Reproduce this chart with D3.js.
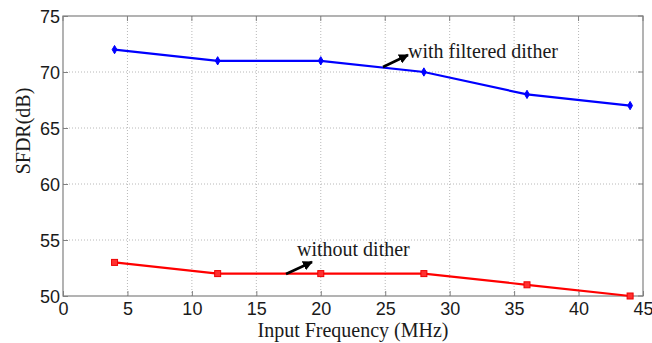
<!DOCTYPE html>
<html>
<head>
<meta charset="utf-8">
<script src="https://cdn.jsdelivr.net/npm/d3@7"></script>
<style>
  html, body { margin: 0; padding: 0; background: #fff; }
  svg { display: block; }
</style>
</head>
<body>
<svg id="chart" width="652" height="343"></svg>
<script>
// Input frequency (MHz) of each measurement
const frequency = [4, 12, 20, 28, 36, 44];
// SFDR (dB) with the filtered dither applied
const sfdrFilteredDither = [72, 71, 71, 70, 68, 67];
// SFDR (dB) without dither
const sfdrNoDither = [53, 52, 52, 52, 51, 50];
// Axis tick values
const xTicks = [0, 5, 10, 15, 20, 25, 30, 35, 40, 45];
const yTicks = [50, 55, 60, 65, 70, 75];

const svg = d3.select("#chart");
const margin = { left: 63, right: 9, top: 16, bottom: 47 };
const W = 652, H = 343;

const x = d3.scaleLinear().domain([0, 45]).range([margin.left, W - margin.right]);
const y = d3.scaleLinear().domain([50, 75]).range([H - margin.bottom, margin.top]);

const x0 = x.range()[0], x1 = x.range()[1];
const y0 = y.range()[0], y1 = y.range()[1];

// dotted grid
const grid = svg.append("g").attr("stroke", "#b8b8b8").attr("stroke-width", 1)
  .attr("stroke-dasharray", "1,2");
grid.selectAll(".gx").data(xTicks.slice(1, -1)).join("line")
  .attr("x1", d => x(d)).attr("x2", d => x(d)).attr("y1", y0).attr("y2", y1);
grid.selectAll(".gy").data(yTicks.slice(1, -1)).join("line")
  .attr("x1", x0).attr("x2", x1).attr("y1", d => y(d)).attr("y2", d => y(d));

// axes with inward ticks
const tickFont = "'Liberation Sans', Arial, sans-serif";
const xAxis = svg.append("g").attr("transform", `translate(0,${y0})`)
  .call(d3.axisBottom(x).tickValues(xTicks).tickSizeInner(-5).tickSizeOuter(0));
const yAxis = svg.append("g").attr("transform", `translate(${x0},0)`)
  .call(d3.axisLeft(y).tickValues(yTicks).tickSizeInner(-5).tickSizeOuter(0).tickPadding(3));
[xAxis, yAxis].forEach(a => {
  a.select(".domain").remove();
  a.selectAll("line").attr("stroke", "#808080");
  a.selectAll("text").attr("font-family", tickFont).attr("font-size", 18).attr("fill", "#1a1a1a");
});
xAxis.selectAll("text").attr("y", 19).attr("dy", 0);
yAxis.selectAll("text").attr("dy", "0.35em");

// top/right ticks mirrored
svg.append("g").selectAll("line").data(xTicks).join("line")
  .attr("x1", d => x(d)).attr("x2", d => x(d)).attr("y1", y1).attr("y2", y1 + 5)
  .attr("stroke", "#808080");
svg.append("g").selectAll("line").data(yTicks).join("line")
  .attr("x1", x1).attr("x2", x1 - 5).attr("y1", d => y(d)).attr("y2", d => y(d))
  .attr("stroke", "#808080");

// plot box
svg.append("rect").attr("x", x0).attr("y", y1).attr("width", x1 - x0).attr("height", y0 - y1)
  .attr("fill", "none").attr("stroke", "#808080").attr("stroke-width", 1.2);

// series lines
const line = d3.line().x(d => x(d[0])).y(d => y(d[1]));
const blue = d3.zip(frequency, sfdrFilteredDither);
const red = d3.zip(frequency, sfdrNoDither);

svg.append("path").datum(blue).attr("d", line).attr("fill", "none")
  .attr("stroke", "#0000ff").attr("stroke-width", 2.2);
svg.append("path").datum(red).attr("d", line).attr("fill", "none")
  .attr("stroke", "#ff0000").attr("stroke-width", 2.2);

// markers
svg.append("g").selectAll("path").data(blue).join("path")
  .attr("d", d3.symbol(d3.symbolDiamond, 20))
  .attr("transform", d => `translate(${x(d[0])},${y(d[1])})`)
  .attr("fill", "#0000ff").attr("stroke", "#0000ff");
svg.append("g").selectAll("rect").data(red).join("rect")
  .attr("x", d => x(d[0]) - 3).attr("y", d => y(d[1]) - 3)
  .attr("width", 6).attr("height", 6)
  .attr("fill", "#ff3030").attr("stroke", "#ee0000").attr("stroke-width", 1);

// axis titles
const serif = "'Liberation Serif', 'Times New Roman', serif";
svg.append("text").attr("x", 353).attr("y", 337)
  .attr("text-anchor", "middle").attr("font-family", serif).attr("font-size", 20)
  .attr("fill", "#1a1a1a").text("Input Frequency (MHz)");
svg.append("text").attr("transform", "translate(30,131) rotate(-90)")
  .attr("text-anchor", "middle").attr("font-family", serif).attr("font-size", 20)
  .attr("fill", "#1a1a1a").text("SFDR(dB)");

// annotations with arrows
svg.append("defs").append("marker").attr("id", "arrowhead")
  .attr("viewBox", "0 0 10 10").attr("refX", 9).attr("refY", 5)
  .attr("markerWidth", 4).attr("markerHeight", 4).attr("orient", "auto")
  .append("path").attr("d", "M0,0 L10,5 L0,10 z").attr("fill", "#000");

function annotate(label, tx, ty, ax0, ay0, ax1, ay1) {
  svg.append("line").attr("x1", ax0).attr("y1", ay0).attr("x2", ax1).attr("y2", ay1)
    .attr("stroke", "#000").attr("stroke-width", 2.5).attr("marker-end", "url(#arrowhead)");
  svg.append("text").attr("x", tx).attr("y", ty).attr("font-family", serif)
    .attr("font-size", 20).attr("fill", "#1a1a1a").text(label);
}
annotate("with filtered dither", 408, 58, 383, 67, 408, 55);
annotate("without dither", 297, 256, 286, 274, 312, 262);
</script>
</body>
</html>
